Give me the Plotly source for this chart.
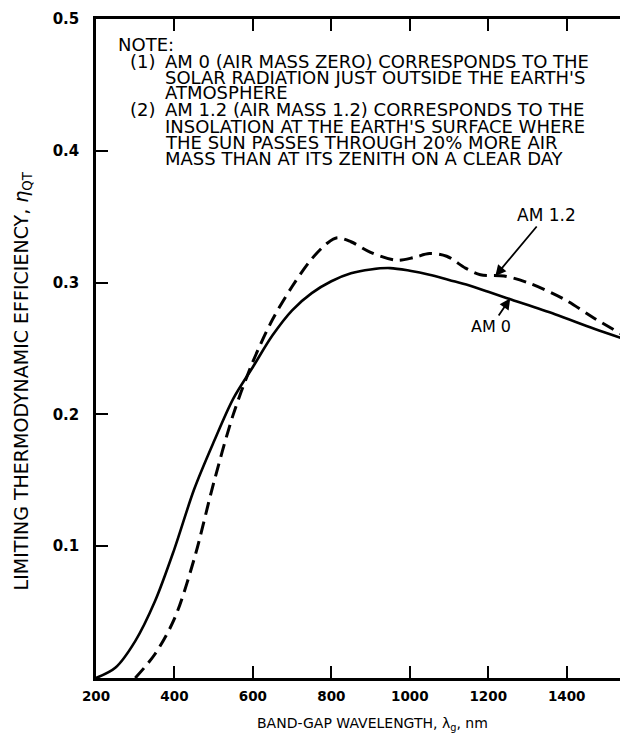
import plotly.graph_objects as go

# ---- data ----
wl_am0 = [200, 250, 300, 350, 400, 450, 500, 550, 600, 650, 700, 750, 800, 850,
          900, 950, 1000, 1050, 1100, 1150, 1200, 1260, 1370, 1470, 1569]
eff_am0 = [0.000, 0.008, 0.028, 0.058, 0.098, 0.143, 0.179, 0.212, 0.236, 0.260,
           0.279, 0.292, 0.301, 0.307, 0.310, 0.311, 0.309, 0.306, 0.302, 0.298,
           0.293, 0.287, 0.276, 0.265, 0.255]

wl_am12 = [300, 350, 400, 450, 500, 550, 600, 650, 700, 750, 790, 815, 850, 900,
           966, 1010, 1050, 1094, 1142, 1180, 1240, 1300, 1390, 1470, 1569]
eff_am12 = [0.000, 0.018, 0.045, 0.090, 0.148, 0.200, 0.240, 0.272, 0.297, 0.318,
            0.330, 0.334, 0.331, 0.323, 0.317, 0.319, 0.322, 0.320, 0.311, 0.306,
            0.305, 0.300, 0.288, 0.273, 0.256]

x_ticks = [200, 400, 600, 800, 1000, 1200, 1400]
x_tick_labels = ["200", "400", "600", "800", "1000", "1200", "1400"]
y_ticks = [0.1, 0.2, 0.3, 0.4, 0.5]
y_tick_labels = ["0.1", "0.2", "0.3", "0.4", "0.5"]

note_lines = [
    ("NOTE:", 108, 37),
    ("(1)", 120, 53),
    ("AM 0 (AIR MASS ZERO) CORRESPONDS TO THE", 155, 53),
    ("SOLAR RADIATION JUST OUTSIDE THE EARTH'S", 155, 69),
    ("ATMOSPHERE", 155, 85),
    ("(2)", 120, 102),
    ("AM 1.2 (AIR MASS 1.2) CORRESPONDS TO THE", 155, 102),
    ("INSOLATION AT THE EARTH'S SURFACE WHERE", 155, 118),
    ("THE SUN PASSES THROUGH 20% MORE AIR", 155, 134),
    ("MASS THAN AT ITS ZENITH ON A CLEAR DAY", 155, 150),
]

W, H = 628, 741
ML, MR, MT, MB = 88, 0, 11, 71
PW, PH = W - ML - MR, H - MT - MB

FONT = "DejaVu Sans"

fig = go.Figure()
fig.add_trace(go.Scatter(
    x=wl_am0, y=eff_am0, mode="lines", name="AM 0",
    line=dict(color="black", width=2.6, shape="spline", smoothing=0.9),
))
fig.add_trace(go.Scatter(
    x=wl_am12, y=eff_am12, mode="lines", name="AM 1.2",
    line=dict(color="black", width=3, dash="13px,7px", shape="spline", smoothing=0.9),
))

ann = []
for txt, px, py in note_lines:
    ann.append(dict(
        text=txt, xref="paper", yref="paper",
        x=(px - ML) / PW, y=(H - MB - py) / PH,
        xanchor="left", yanchor="middle", showarrow=False,
        font=dict(family=FONT, size=18, color="black"),
    ))

# curve labels with arrows
ann.append(dict(
    text="AM 1.2", x=1218, y=0.305, xref="x", yref="y",
    ax=51, ay=-61, showarrow=True, arrowhead=2, arrowsize=1.2, arrowwidth=1.8,
    arrowcolor="black", standoff=0, startstandoff=0,
    font=dict(family=FONT, size=17, color="black"),
))
ann.append(dict(
    text="AM 0", x=1256, y=0.288, xref="x", yref="y",
    ax=-19, ay=28, showarrow=True, arrowhead=2, arrowsize=1.2, arrowwidth=1.8,
    arrowcolor="black", standoff=0, startstandoff=0,
    font=dict(family=FONT, size=16, color="black"),
))

# axis titles
ann.append(dict(
    text="BAND-GAP WAVELENGTH, λ<sub>g</sub>, nm",
    xref="paper", yref="paper", x=(366 - ML) / PW, y=(H - MB - 716) / PH,
    xanchor="center", yanchor="middle", showarrow=False,
    font=dict(family=FONT, size=14, color="black"),
))
ann.append(dict(
    text="LIMITING THERMODYNAMIC EFFICIENCY, <i>η</i><sub>QT</sub>",
    xref="paper", yref="paper", x=(14 - ML) / PW, y=(H - MB - 373) / PH,
    xanchor="center", yanchor="middle", showarrow=False, textangle=-90,
    font=dict(family=FONT, size=19, color="black"),
))

axis_common = dict(
    showline=True, linewidth=2.5, linecolor="black", mirror="ticks",
    ticks="inside", ticklen=12, tickwidth=2, tickcolor="black",
    showgrid=False, zeroline=False,
)

fig.update_layout(
    width=W, height=H,
    margin=dict(l=ML, r=MR, t=MT, b=MB),
    paper_bgcolor="white", plot_bgcolor="white",
    showlegend=False,
    annotations=ann,
    xaxis=dict(range=[200, 1569], tickvals=x_ticks, ticktext=x_tick_labels,
               ticklabelstandoff=4,
               tickfont=dict(family=FONT, size=13.5, color="black", weight="bold"),
               **axis_common),
    yaxis=dict(range=[0, 0.5], tickvals=y_ticks, ticktext=y_tick_labels,
               ticklabelstandoff=11,
               tickfont=dict(family=FONT, size=15, color="black", weight="bold"),
               **axis_common),
)

fig.write_html("out.html")
